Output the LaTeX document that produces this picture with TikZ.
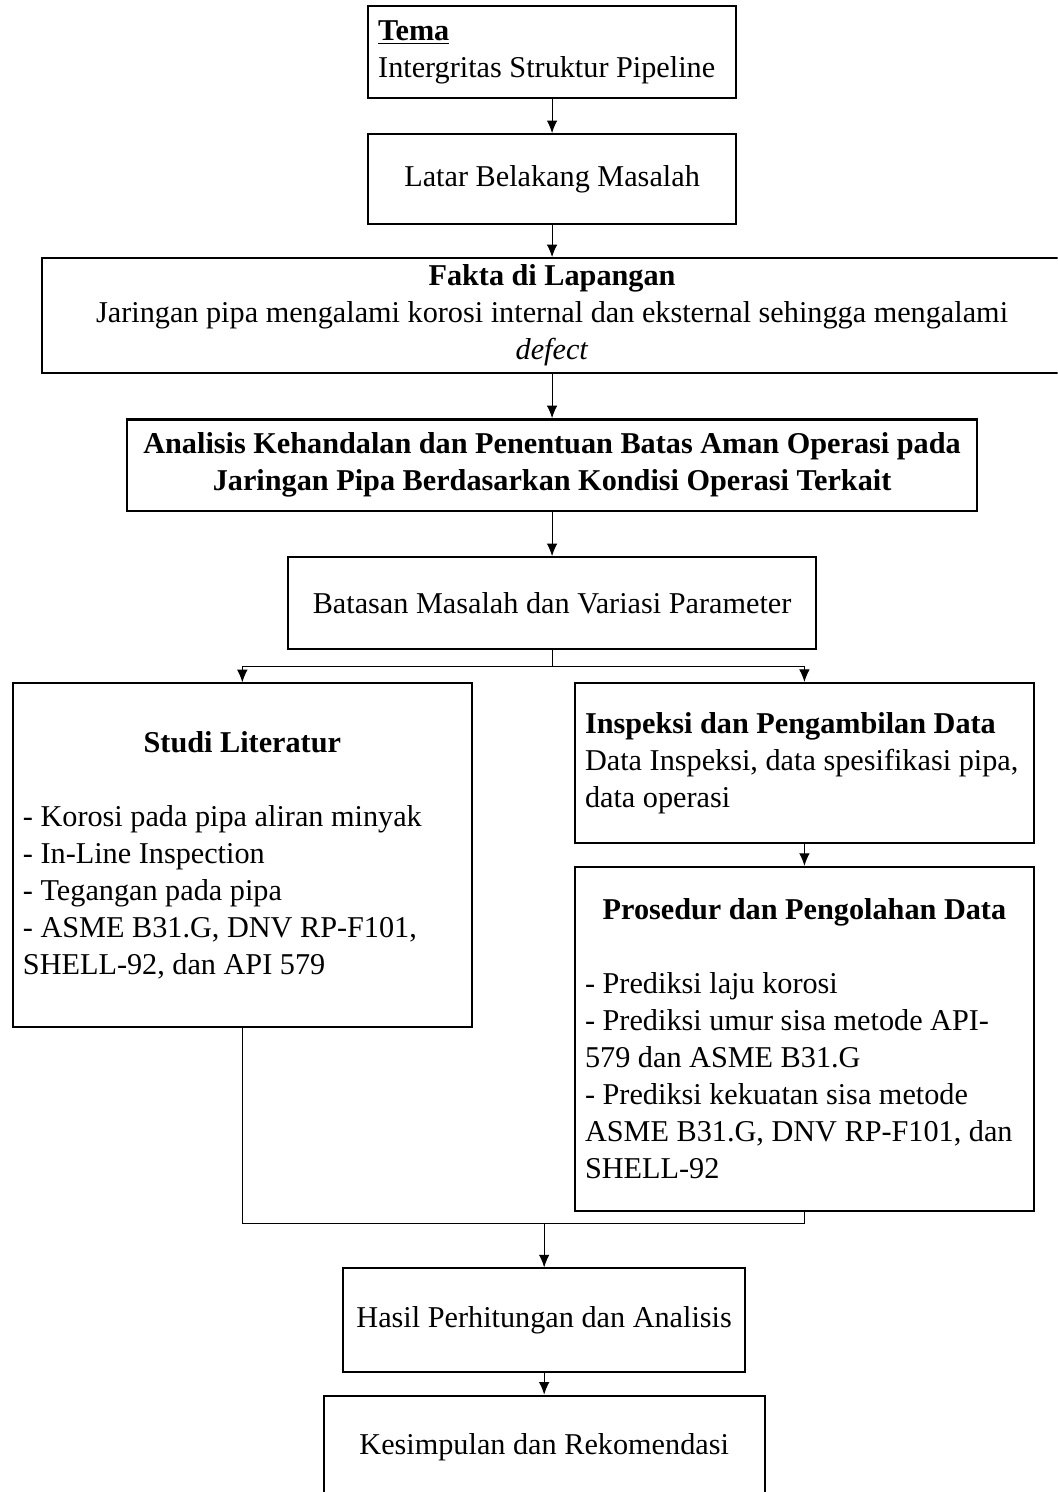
\documentclass[tikz,border=0pt]{standalone}
\usepackage{fontspec}
\setmainfont{Liberation Serif}
\usetikzlibrary{arrows.meta}

\begin{document}
\begin{tikzpicture}
		\tikzstyle{kotak} = [draw,line width=0.75pt,inner xsep=0.14cm,inner ysep=0pt,font=\fontsize{12}{14.7}\selectfont]
		\tikzstyle{isi} = [text width=6.12cm,align=flush left]
		\tikzstyle{panah} = [->,>={Latex[length=5pt,width=4.2pt]},line width=0.4pt]
		\tikzstyle{garis} = [line width=0.4pt]
		
		\clip (0,0) rectangle (14.75,-20.81);
		
		\node[kotak,minimum width=5.13cm,minimum height=1.28cm,text width=4.85cm,align=flush left](tema) at (7.70,-0.725) {\underline{\textbf{Tema}}\\Intergritas Struktur Pipeline};
		\node[kotak,minimum width=5.13cm,minimum height=1.26cm,align=center](latar) at (7.70,-2.50) {Latar Belakang Masalah};
		\node[kotak,minimum width=14.23cm,minimum height=1.60cm,align=center](fakta) at (7.70,-4.40) {\textbf{Fakta di Lapangan}\\Jaringan pipa mengalami korosi internal dan eksternal sehingga mengalami\\\textit{defect}};
		\node[kotak,line width=1pt,minimum width=11.86cm,minimum height=1.28cm,align=center](analisis) at (7.70,-6.49) {\textbf{Analisis Kehandalan dan Penentuan Batas Aman Operasi pada}\\\textbf{Jaringan Pipa Berdasarkan Kondisi Operasi Terkait}};
		\node[kotak,minimum width=7.37cm,minimum height=1.28cm,align=center](batasan) at (7.70,-8.41) {Batasan Masalah dan Variasi Parameter};
		
		\node[kotak,isi,minimum width=6.40cm,minimum height=4.80cm](studi) at (3.38,-11.93) {\hspace*{0pt plus 1filll}\textbf{Studi Literatur}\hspace*{0pt plus 1filll}\null\\~\\- Korosi pada pipa aliran minyak\\- In-Line Inspection\\- Tegangan pada pipa\\- ASME B31.G, DNV RP-F101,\\SHELL-92, dan API 579};
		\node[kotak,isi,minimum width=6.40cm,minimum height=2.23cm](inspeksi) at (11.22,-10.64) {\textbf{Inspeksi dan Pengambilan Data}\\Data Inspeksi, data spesifikasi pipa,\\data operasi};
		\node[kotak,isi,minimum width=6.40cm,minimum height=4.80cm](prosedur) at (11.22,-14.49) {\hspace*{0pt plus 1filll}\textbf{Prosedur dan Pengolahan Data}\hspace*{0pt plus 1filll}\null\\~\\- Prediksi laju korosi\\- Prediksi umur sisa metode API-\\579 dan ASME B31.G\\- Prediksi kekuatan sisa metode\\ASME B31.G, DNV RP-F101, dan\\SHELL-92};
		
		\node[kotak,minimum width=5.61cm,minimum height=1.44cm,align=center](hasil) at (7.59,-18.41) {Hasil Perhitungan dan Analisis};
		\node[kotak,minimum width=6.15cm,minimum height=1.45cm,align=center](kesimpulan) at (7.59,-20.19) {Kesimpulan dan Rekomendasi};
		
		\coordinate (cabang) at (7.70,-9.29);
		\coordinate (gabung) at (7.59,-17.06);
		
		\draw[panah] (tema) -- (latar);
		\draw[panah] (latar) -- (fakta);
		\draw[panah] (fakta) -- (analisis);
		\draw[panah] (analisis) -- (batasan);
		\draw[garis] (batasan) -- (cabang);
		\draw[panah] (cabang) -| (studi);
		\draw[panah] (cabang) -| (inspeksi);
		\draw[panah] (inspeksi) -- (prosedur);
		\draw[garis] (studi) |- (gabung);
		\draw[garis] (prosedur) |- (gabung);
		\draw[panah] (gabung) -- (hasil);
		\draw[panah] (hasil) -- (kesimpulan);
		
		\end{tikzpicture}
\end{document}
